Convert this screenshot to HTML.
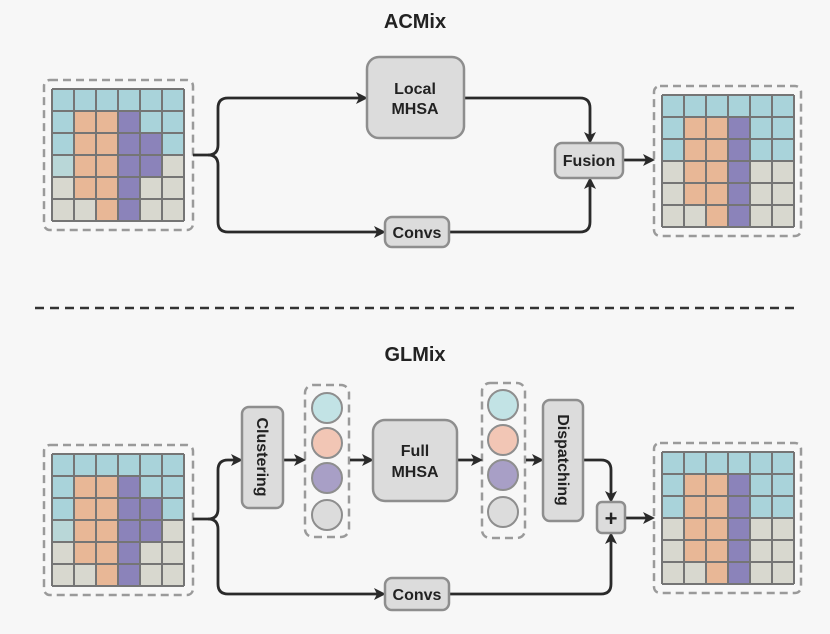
<!DOCTYPE html>
<html><head><meta charset="utf-8"><style>
html,body{margin:0;padding:0;background:#f7f7f7;}
svg{display:block;font-family:"Liberation Sans",sans-serif;}
</style></head><body>
<svg width="830" height="634" viewBox="0 0 830 634" xmlns="http://www.w3.org/2000/svg">
<defs>
<marker id="ah" markerWidth="12" markerHeight="12" refX="9" refY="6" orient="auto" markerUnits="userSpaceOnUse">
<path d="M0,0 L12,6 L0,12 L3,6 Z" fill="#2a2a2a"/>
</marker>
<g id="gridL">
<rect x="0" y="0" width="132" height="132" fill="#a9d3da"/>
<rect x="0" y="66" width="132" height="66" fill="#d8d8cf"/>
<rect x="0" y="66" width="22" height="22" fill="#b9d7d8"/>
<rect x="110" y="44" width="22" height="22" fill="#a9d3da"/>
<rect x="22" y="22" width="44" height="88" fill="#e8b796"/>
<rect x="44" y="110" width="22" height="22" fill="#e8b796"/>
<rect x="66" y="22" width="22" height="110" fill="#8b83ba"/>
<rect x="88" y="44" width="22" height="44" fill="#8b83ba"/>
<g stroke="#757575" stroke-width="2" fill="none">
<path d="M0,0H132M0,22H132M0,44H132M0,66H132M0,88H132M0,110H132M0,132H132M0,0V132M22,0V132M44,0V132M66,0V132M88,0V132M110,0V132M132,0V132"/>
</g>
</g>
<g id="gridR">
<rect x="0" y="0" width="132" height="132" fill="#a9d3da"/>
<rect x="0" y="66" width="132" height="66" fill="#d8d8cf"/>
<rect x="22" y="22" width="44" height="110" fill="#e8b796"/>
<rect x="22" y="110" width="22" height="22" fill="#d8d8cf"/>
<rect x="66" y="22" width="22" height="110" fill="#8b83ba"/>
<g stroke="#757575" stroke-width="2" fill="none">
<path d="M0,0H132M0,22H132M0,44H132M0,66H132M0,88H132M0,110H132M0,132H132M0,0V132M22,0V132M44,0V132M66,0V132M88,0V132M110,0V132M132,0V132"/>
</g>
</g>
</defs>

<g fill="none" stroke="#9a9a9a" stroke-width="2.5" stroke-dasharray="8,5">
<rect x="44" y="80" width="149" height="150" rx="6"/>
<rect x="654" y="86" width="147" height="150" rx="6"/>
<rect x="44" y="445" width="149" height="150" rx="6"/>
<rect x="654" y="443" width="147" height="150" rx="6"/>
<rect x="305" y="385" width="44" height="152" rx="8"/>
<rect x="482" y="383" width="43" height="155" rx="8"/>
</g>
<use href="#gridL" x="52" y="89"/>
<use href="#gridR" x="662" y="95"/>
<use href="#gridL" x="52" y="454"/>
<use href="#gridR" x="662" y="452"/>

<text x="415" y="28" text-anchor="middle" font-size="20" font-weight="bold" fill="#222">ACMix</text>
<text x="415" y="361" text-anchor="middle" font-size="20" font-weight="bold" fill="#222">GLMix</text>
<line x1="35" y1="308" x2="800" y2="308" stroke="#333" stroke-width="2.5" stroke-dasharray="9,6"/>

<g fill="none" stroke="#2a2a2a" stroke-width="2.8">
<path d="M193,155 H208 Q218,155 218,145 V108 Q218,98 228,98 H365" marker-end="url(#ah)"/>
<path d="M208,155 Q218,155 218,165 V222 Q218,232 228,232 H383" marker-end="url(#ah)"/>
<path d="M464,98 H580 Q590,98 590,108 V141" marker-end="url(#ah)"/>
<path d="M449,232 H580 Q590,232 590,222 V180" marker-end="url(#ah)"/>
<path d="M623,160 H652" marker-end="url(#ah)"/>

<path d="M193,519 H208 Q218,519 218,509 V470 Q218,460 228,460 H240" marker-end="url(#ah)"/>
<path d="M208,519 Q218,519 218,529 V584 Q218,594 228,594 H383" marker-end="url(#ah)"/>
<path d="M283,460 H303" marker-end="url(#ah)"/>
<path d="M350,460 H371" marker-end="url(#ah)"/>
<path d="M457,460 H480" marker-end="url(#ah)"/>
<path d="M526,460 H541" marker-end="url(#ah)"/>
<path d="M583,460 H601 Q611,460 611,470 V500" marker-end="url(#ah)"/>
<path d="M449,594 H601 Q611,594 611,584 V535" marker-end="url(#ah)"/>
<path d="M625,518 H652" marker-end="url(#ah)"/>
</g>

<g fill="#dcdcdc" stroke="#8e8e8e" stroke-width="2.5">
<rect x="367" y="57" width="97" height="81" rx="12"/>
<rect x="555" y="143" width="68" height="35" rx="7"/>
<rect x="385" y="217" width="64" height="30" rx="7"/>
<rect x="242" y="407" width="41" height="101" rx="7"/>
<rect x="373" y="420" width="84" height="81" rx="12"/>
<rect x="543" y="400" width="40" height="121" rx="7"/>
<rect x="597" y="502" width="28" height="31" rx="5"/>
<rect x="385" y="578" width="64" height="32" rx="7"/>
</g>
<g stroke="#8e8e8e" stroke-width="2">
<circle cx="327" cy="408" r="15" fill="#c2e3e5"/>
<circle cx="327" cy="443" r="15" fill="#f2c6b5"/>
<circle cx="327" cy="478" r="15" fill="#a89fc6"/>
<circle cx="327" cy="515" r="15" fill="#dcdcdc"/>
<circle cx="503" cy="405" r="15" fill="#c2e3e5"/>
<circle cx="503" cy="440" r="15" fill="#f2c6b5"/>
<circle cx="503" cy="475" r="15" fill="#a89fc6"/>
<circle cx="503" cy="512" r="15" fill="#dcdcdc"/>
</g>

<g font-size="16" font-weight="bold" fill="#222" text-anchor="middle">
<text x="415" y="94">Local</text>
<text x="415" y="114">MHSA</text>
<text x="589" y="166">Fusion</text>
<text x="417" y="238">Convs</text>
<text x="417" y="600">Convs</text>
<text x="415" y="456">Full</text>
<text x="415" y="477">MHSA</text>
<text transform="translate(257,457) rotate(90)">Clustering</text>
<text transform="translate(558,460) rotate(90)">Dispatching</text>
<text x="611" y="526" font-size="22">+</text>
</g>
</svg>
</body></html>
